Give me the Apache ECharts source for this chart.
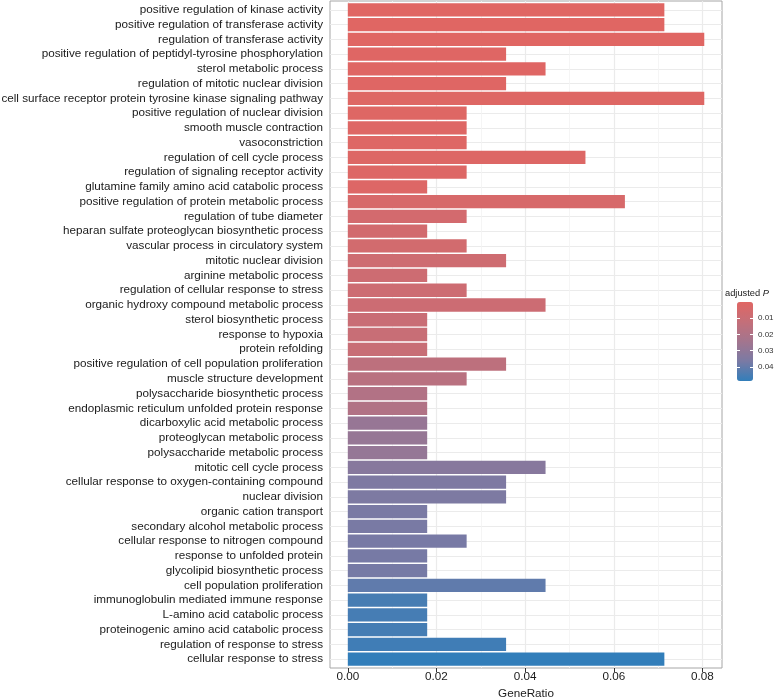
<!DOCTYPE html>
<html>
<head>
<meta charset="utf-8">
<script src="https://cdn.jsdelivr.net/npm/echarts@6/dist/echarts.min.js"></script>
<style>
html, body { margin: 0; padding: 0; background: #fff; }
#chart { width: 776px; height: 698px; }
</style>
</head>
<body>
<div id="chart"></div>
<script>
// GO terms, top to bottom
var terms = [
  'positive regulation of kinase activity',
  'positive regulation of transferase activity',
  'regulation of transferase activity',
  'positive regulation of peptidyl-tyrosine phosphorylation',
  'sterol metabolic process',
  'regulation of mitotic nuclear division',
  'cell surface receptor protein tyrosine kinase signaling pathway',
  'positive regulation of nuclear division',
  'smooth muscle contraction',
  'vasoconstriction',
  'regulation of cell cycle process',
  'regulation of signaling receptor activity',
  'glutamine family amino acid catabolic process',
  'positive regulation of protein metabolic process',
  'regulation of tube diameter',
  'heparan sulfate proteoglycan biosynthetic process',
  'vascular process in circulatory system',
  'mitotic nuclear division',
  'arginine metabolic process',
  'regulation of cellular response to stress',
  'organic hydroxy compound metabolic process',
  'sterol biosynthetic process',
  'response to hypoxia',
  'protein refolding',
  'positive regulation of cell population proliferation',
  'muscle structure development',
  'polysaccharide biosynthetic process',
  'endoplasmic reticulum unfolded protein response',
  'dicarboxylic acid metabolic process',
  'proteoglycan metabolic process',
  'polysaccharide metabolic process',
  'mitotic cell cycle process',
  'cellular response to oxygen-containing compound',
  'nuclear division',
  'organic cation transport',
  'secondary alcohol metabolic process',
  'cellular response to nitrogen compound',
  'response to unfolded protein',
  'glycolipid biosynthetic process',
  'cell population proliferation',
  'immunoglobulin mediated immune response',
  'L-amino acid catabolic process',
  'proteinogenic amino acid catabolic process',
  'regulation of response to stress',
  'cellular response to stress'
];

var geneRatio = [
  0.0714, 0.0714, 0.0804, 0.0357, 0.0446, 0.0357, 0.0804, 0.0268, 0.0268, 0.0268,
  0.0536, 0.0268, 0.0179, 0.0625, 0.0268, 0.0179, 0.0268, 0.0357, 0.0179, 0.0268,
  0.0446, 0.0179, 0.0179, 0.0179, 0.0357, 0.0268, 0.0179, 0.0179, 0.0179, 0.0179,
  0.0179, 0.0446, 0.0357, 0.0357, 0.0179, 0.0179, 0.0268, 0.0179, 0.0179, 0.0446,
  0.0179, 0.0179, 0.0179, 0.0357, 0.0714
];

// adjusted p
var pAdjust = [
  0.0002, 0.0003, 0.0004, 0.0006, 0.0007, 0.0008, 0.0009, 0.0010, 0.0011, 0.0012,
  0.0013, 0.0014, 0.0016, 0.0040, 0.0060, 0.0062, 0.0064, 0.0080, 0.0083, 0.0085,
  0.0088, 0.0102, 0.0104, 0.0106, 0.0147, 0.0162, 0.0190, 0.0192, 0.0280, 0.0283,
  0.0286, 0.0326, 0.0352, 0.0355, 0.0364, 0.0366, 0.0369, 0.0370, 0.0372, 0.0409,
  0.0450, 0.0452, 0.0454, 0.0462, 0.0486
];

var ratioTicks = [0, 0.02, 0.04, 0.06, 0.08];
var ratioMinor = [0.01, 0.03, 0.05, 0.07];
var pTicks = [0.01, 0.02, 0.03, 0.04];

var pMin = 0.0002, pMax = 0.0486;
var xMin = -0.00402, xMax = 0.0844;   // ggplot 5% expansion
var fillColors = ['#e06663', '#c46f79', '#a3758e', '#7a7aa4', '#327eba'];

var FONT = '"Liberation Sans", Arial, sans-serif';
var rowIdx = terms.map(function (t, i) { return i; });

var myChart = echarts.init(document.getElementById('chart'));

var option = {
  animation: false,
  backgroundColor: '#fff',
  textStyle: { fontFamily: FONT },
  title: {
    text: '{a|adjusted }{b|P}',
    left: 725, top: 289, padding: 0,
    textStyle: {
      fontWeight: 'normal',
      rich: {
        a: { fontSize: 9.3, color: '#1a1a1a', fontFamily: FONT, fontWeight: 'normal' },
        b: { fontSize: 9.3, color: '#1a1a1a', fontFamily: FONT, fontWeight: 'normal', fontStyle: 'italic' }
      }
    }
  },
  grid: [
    // panel (border + gridlines)
    { left: 330, top: 1, width: 392, height: 667, show: true, outerBoundsMode: 'none',
      borderColor: '#a6a6a6', borderWidth: 1, backgroundColor: '#fff' },
    // bars
    { left: 330, top: 2.48, width: 392, height: 664.06, outerBoundsMode: 'none' },
    // colour bar
    { left: 737, top: 302, width: 16, height: 79, outerBoundsMode: 'none' }
  ],
  xAxis: [
    {
      gridIndex: 0, type: 'value', min: xMin, max: xMax, position: 'bottom',
      axisLine: { show: false, onZero: false },
      axisTick: { show: true, customValues: ratioTicks, length: 4, lineStyle: { color: '#333' } },
      axisLabel: {
        customValues: ratioTicks, margin: 3, fontSize: 11.7, color: '#1a1a1a', fontFamily: FONT,
        formatter: function (v) { return v.toFixed(2); }
      },
      splitLine: { show: true, lineStyle: { color: '#ebebeb', width: 1.2 } },
      name: 'GeneRatio', nameLocation: 'middle', nameGap: 18,
      nameTextStyle: { fontSize: 11.7, color: '#1a1a1a', fontFamily: FONT }
    },
    {
      gridIndex: 0, type: 'value', min: xMin, max: xMax, position: 'top',
      axisLine: { show: false, onZero: false },
      axisTick: { show: false, customValues: ratioMinor },
      axisLabel: { show: false, customValues: ratioMinor },
      splitLine: { show: true, lineStyle: { color: '#f2f2f2', width: 0.8 } }
    },
    { gridIndex: 1, type: 'value', min: xMin, max: xMax, show: false, axisLine: { onZero: false } },
    { gridIndex: 2, type: 'value', show: false, axisLine: { onZero: false } }
  ],
  yAxis: [
    {
      gridIndex: 0, type: 'value', min: -0.6, max: 44.6, inverse: true,
      axisLine: { show: false, onZero: false },
      axisTick: { show: false, customValues: rowIdx },
      axisLabel: { show: false, customValues: rowIdx },
      splitLine: { show: true, lineStyle: { color: '#ebebeb', width: 1.2 } }
    },
    {
      gridIndex: 1, type: 'category', data: terms, inverse: true,
      axisLine: { show: false, onZero: false },
      axisTick: { alignWithLabel: true, length: 4, lineStyle: { color: '#333' } },
      axisLabel: { interval: 0, margin: 7, fontSize: 11.7, color: '#1a1a1a', fontFamily: FONT },
      splitLine: { show: false }
    },
    {
      gridIndex: 2, type: 'value', min: pMin, max: pMax, inverse: true, position: 'right', z: 10,
      axisLine: { show: false, onZero: false },
      axisTick: { customValues: pTicks, inside: true, length: 3, lineStyle: { color: '#fff' } },
      axisLabel: {
        customValues: pTicks, margin: 5, fontSize: 8, color: '#333', fontFamily: FONT,
        formatter: function (v) { return v.toFixed(2); }
      },
      splitLine: { show: false }
    },
    {
      gridIndex: 2, type: 'value', min: pMin, max: pMax, inverse: true, position: 'left', z: 10,
      axisLine: { show: false, onZero: false },
      axisTick: { customValues: pTicks, inside: true, length: 3, lineStyle: { color: '#fff' } },
      axisLabel: { show: false, customValues: pTicks },
      splitLine: { show: false }
    }
  ],
  visualMap: {
    type: 'continuous', min: pMin, max: pMax, dimension: 2, seriesIndex: 0,
    inRange: { color: fillColors },
    orient: 'vertical', inverse: true,
    left: 737, top: 302, itemWidth: 16, itemHeight: 79, padding: 0,
    calculable: false, hoverLink: false, text: null
  },
  series: [{
    type: 'bar', xAxisIndex: 2, yAxisIndex: 1,
    barCategoryGap: '10%',
    data: terms.map(function (t, i) { return [geneRatio[i], i, pAdjust[i]]; })
  }]
};

myChart.setOption(option);
</script>
</body>
</html>
